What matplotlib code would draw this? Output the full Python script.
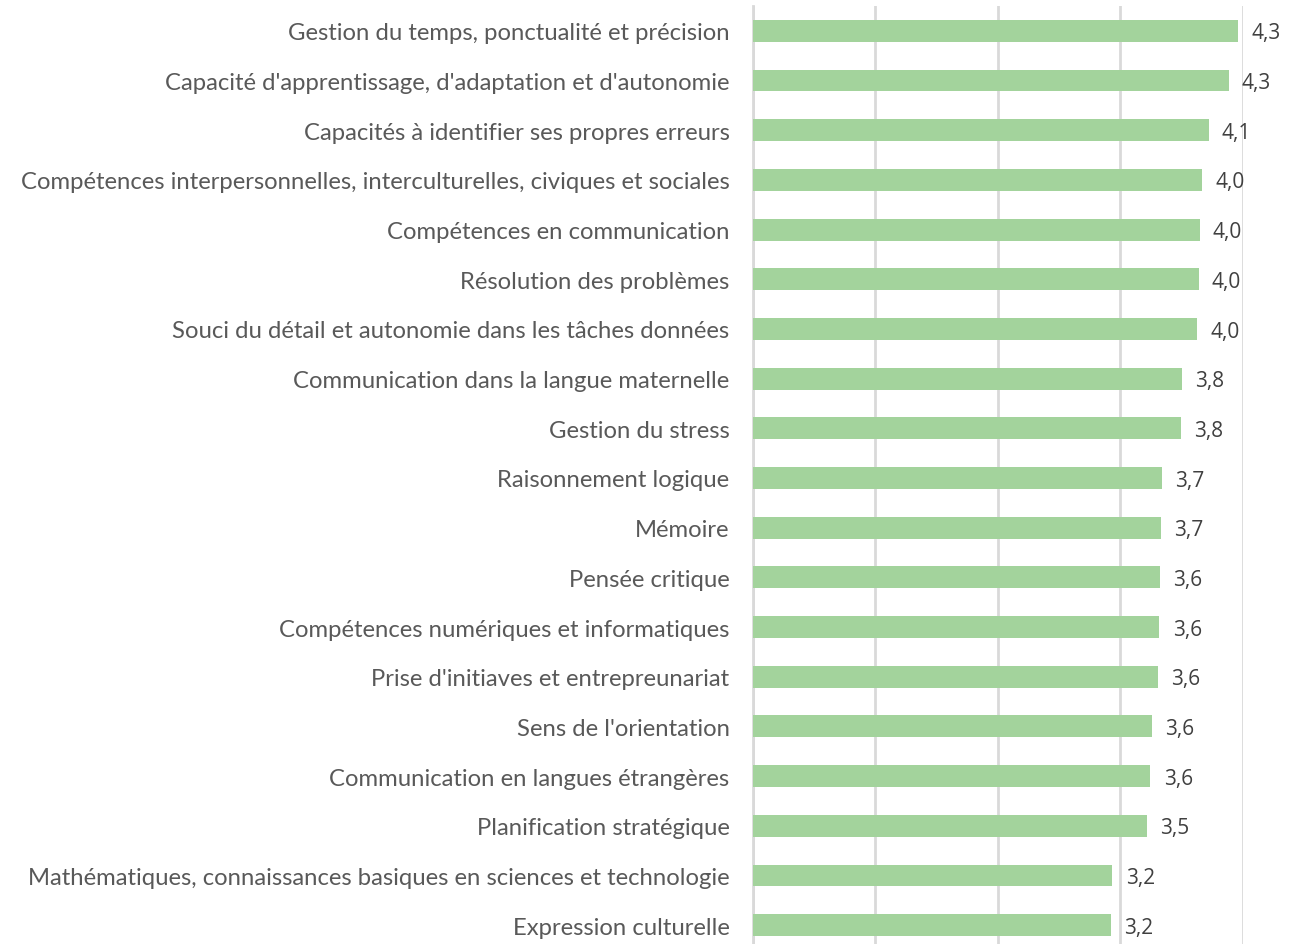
import numpy as np
import matplotlib.pyplot as plt

# Données (score moyen par compétence)
competences = [
    "Gestion du temps, ponctualité et précision",
    "Capacité d'apprentissage, d'adaptation et d'autonomie",
    "Capacités à identifier ses propres erreurs",
    "Compétences interpersonnelles, interculturelles, civiques et sociales",
    "Compétences en communication",
    "Résolution des problèmes",
    "Souci du détail et autonomie dans les tâches données",
    "Communication dans la langue maternelle",
    "Gestion du stress",
    "Raisonnement logique",
    "Mémoire",
    "Pensée critique",
    "Compétences numériques et informatiques",
    "Prise d'initiaves et entrepreunariat",
    "Sens de l'orientation",
    "Communication en langues étrangères",
    "Planification stratégique",
    "Mathématiques, connaissances basiques en sciences et technologie",
    "Expression culturelle",
]
scores = [4.345, 4.26, 4.08, 4.02, 4.00, 3.99, 3.98, 3.84, 3.835,
          3.66, 3.655, 3.645, 3.64, 3.63, 3.575, 3.56, 3.53, 3.22, 3.205]
x_max = 4.385

W, H = 1314, 945
fig = plt.figure(figsize=(W / 100, H / 100), dpi=100)
# zone de tracé en pixels : x 752.5 -> 1242.7, y 7 -> 951
ax = fig.add_axes([752.5 / W, (H - 951) / H, (1242.7 - 752.5) / W, (951 - 7) / H])

y = np.arange(len(competences))
bars = ax.barh(y, scores, height=0.44, color='#a3d39c', zorder=3)

ax.set_xlim(0, x_max)
ax.set_ylim(len(competences) - 0.5, -0.5)
ax.set_xticks(np.linspace(0, x_max, 5))
ax.xaxis.grid(True, color='#d9d9d9', linewidth=2)
ax.tick_params(axis='x', bottom=False, labelbottom=False)

ax.set_yticks(y)
ax.set_yticklabels(competences, family=['Lato', 'DejaVu Sans'], fontsize=17.2, color='#595959')
ax.tick_params(axis='y', length=0, pad=16.5)

for s in ['top', 'right', 'bottom']:
    ax.spines[s].set_visible(False)
ax.spines['left'].set_color('#d9d9d9')
ax.spines['left'].set_linewidth(2)

for bar, v in zip(bars, scores):
    lab = f"{v:.1f}".replace('.', ',')
    ax.annotate(lab, (bar.get_width(), bar.get_y() + bar.get_height() / 2),
                xytext=(9.5, -1.5), textcoords='offset points', ha='left', va='center',
                fontsize=15, color='#404040', family=['Open Sans', 'DejaVu Sans'])

fig.savefig('out.png', dpi=100)
